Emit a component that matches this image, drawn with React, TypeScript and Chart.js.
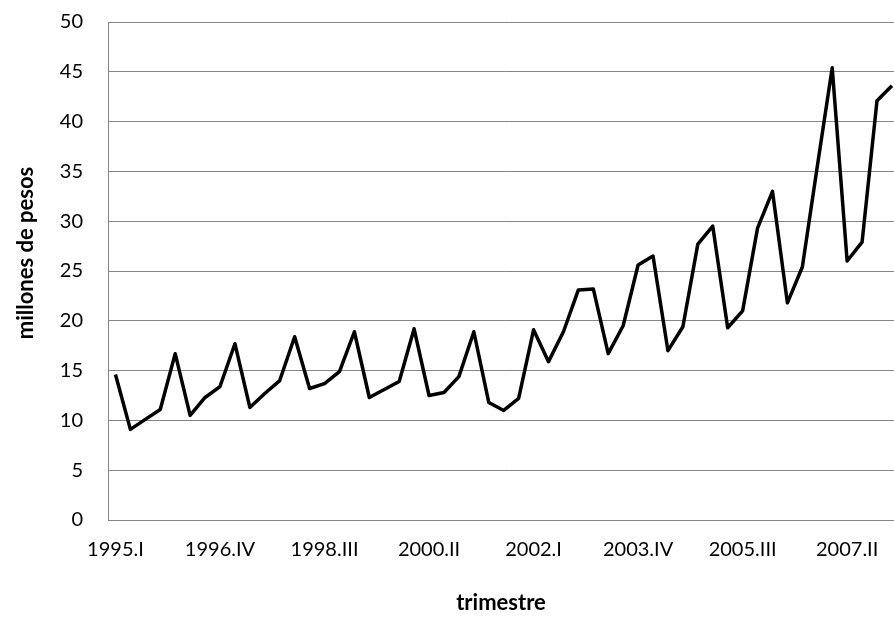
import React, { useEffect, useRef } from "react";
import { Chart, registerables } from "chart.js";

Chart.register(...registerables);

const quarters: string[] = [
  "1995.I", "1995.II", "1995.III", "1995.IV",
  "1996.I", "1996.II", "1996.III", "1996.IV",
  "1997.I", "1997.II", "1997.III", "1997.IV",
  "1998.I", "1998.II", "1998.III", "1998.IV",
  "1999.I", "1999.II", "1999.III", "1999.IV",
  "2000.I", "2000.II", "2000.III", "2000.IV",
  "2001.I", "2001.II", "2001.III", "2001.IV",
  "2002.I", "2002.II", "2002.III", "2002.IV",
  "2003.I", "2003.II", "2003.III", "2003.IV",
  "2004.I", "2004.II", "2004.III", "2004.IV",
  "2005.I", "2005.II", "2005.III", "2005.IV",
  "2006.I", "2006.II", "2006.III", "2006.IV",
  "2007.I", "2007.II", "2007.III", "2007.IV",
  "2008.I",
];

const millonesDePesos: number[] = [
  14.6, 9.1, 10.1, 11.1,
  16.7, 10.5, 12.3, 13.4,
  17.7, 11.3, 12.7, 14.0,
  18.4, 13.2, 13.7, 14.9,
  18.9, 12.3, 13.1, 13.9,
  19.2, 12.5, 12.8, 14.4,
  18.9, 11.8, 11.0, 12.2,
  19.1, 15.9, 18.9, 23.1,
  23.2, 16.7, 19.5, 25.6,
  26.5, 17.0, 19.4, 27.7,
  29.5, 19.3, 21.0, 29.3,
  33.0, 21.8, 25.4, 35.5,
  45.4, 26.0, 27.9, 42.1,
  43.6,
];

const yTitle = "millones de pesos";
const xTitle = "trimestre";
const labelEvery = 7;

const titlesPlugin = {
  id: "excelTitles",
  afterDraw(chart: any) {
    const ctx = chart.ctx;
    ctx.save();
    ctx.fillStyle = "#000";
    ctx.font = "bold 22px Lato";
    ctx.textAlign = "center";
    ctx.textBaseline = "middle";
    ctx.translate(26, 253);
    ctx.rotate(-Math.PI / 2);
    ctx.fillText(yTitle, 0, 0);
    ctx.restore();
    ctx.save();
    ctx.fillStyle = "#000";
    ctx.font = "bold 22px Lato";
    ctx.textAlign = "center";
    ctx.textBaseline = "middle";
    ctx.fillText(xTitle, 501, 603);
    ctx.restore();
  },
};

export default function App() {
  const canvasRef = useRef<HTMLCanvasElement>(null);

  useEffect(() => {
    if (!canvasRef.current) return;
    const chart = new Chart(canvasRef.current, {
      type: "line",
      data: {
        labels: quarters,
        datasets: [
          {
            label: yTitle,
            data: millonesDePesos,
            borderColor: "#000",
            backgroundColor: "#000",
            borderWidth: 3.5,
            pointRadius: 0,
            tension: 0,
            borderJoinStyle: "round",
            fill: false,
          },
        ],
      },
      options: {
        animation: false,
        responsive: true,
        maintainAspectRatio: false,
        layout: { padding: { top: 22, right: 6.5, left: 0, bottom: 0 } },
        plugins: {
          legend: { display: false },
          tooltip: { enabled: false },
        },
        scales: {
          x: {
            type: "category",
            offset: true,
            grid: { display: false, drawTicks: false },
            border: { display: true, color: "#868686", width: 1 },
            ticks: {
              autoSkip: false,
              maxRotation: 0,
              minRotation: 0,
              padding: 18,
              color: "#000",
              font: { family: "Lato", size: 20 },
              callback: (_v: any, i: number) => (i % labelEvery === 0 ? quarters[i] : ""),
            },
            afterFit: (scale: any) => {
              scale.height = 103;
            },
          },
          y: {
            min: 0,
            max: 50,
            ticks: {
              stepSize: 5,
              padding: 0,
              color: "#000",
              font: { family: "Lato", size: 20 },
            },
            grid: {
              color: "#868686",
              lineWidth: 1,
              drawTicks: true,
              tickLength: 25,
              tickColor: "rgba(0,0,0,0)",
            },
            border: { display: true, color: "#868686", width: 1 },
            afterFit: (scale: any) => {
              scale.width = 108;
            },
          },
        },
      },
      plugins: [titlesPlugin],
    });
    return () => chart.destroy();
  }, []);

  return (
    <div
      style={{
        position: "absolute",
        left: 0,
        top: 0,
        width: 894,
        height: 623,
        overflow: "hidden",
        background: "#fff",
      }}
    >
      <div style={{ position: "relative", width: 910, height: 623 }}>
        <canvas ref={canvasRef} />
      </div>
    </div>
  );
}
